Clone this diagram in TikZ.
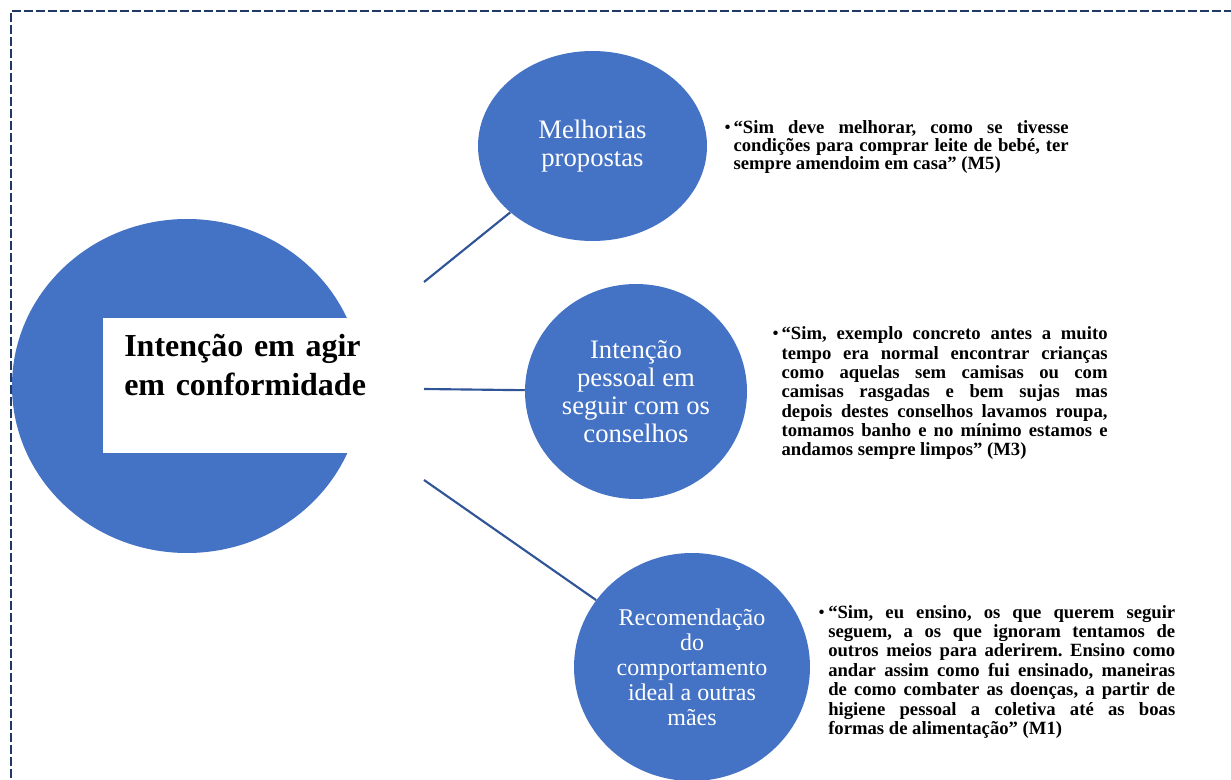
\documentclass[tikz,border=0pt]{standalone}
\usepackage{fontspec}
\setmainfont{Liberation Serif}
\usetikzlibrary{shapes.geometric, positioning}
\definecolor{bubbleblue}{HTML}{4472C4}
\definecolor{linkblue}{HTML}{2F5597}
\definecolor{framenavy}{HTML}{1F3864}
\newcommand{\qbullet}{\makebox[7pt][l]{\mdseries\textbullet}}
\frenchspacing

\begin{document}
\begin{tikzpicture}[x=0.75pt, y=-0.75pt,
        bubble/.style={ellipse, fill=bubbleblue, inner sep=0pt, text=white, align=center, font=\fontsize{20}{21}\selectfont},
        titlebox/.style={rectangle, fill=white, inner sep=0pt, minimum width=200pt, minimum height=101.25pt},
        titletext/.style={inner sep=0pt, anchor=base west, text width=195pt, align=left, font=\bfseries\fontsize{24}{28.5}\selectfont},
        quote/.style={inner sep=0pt, anchor=base west, font=\bfseries\fontsize{14}{14.5}\selectfont},
        link/.style={draw=linkblue, line width=1.6pt},
        frame/.style={draw=framenavy, line width=1pt, dash pattern=on 6.75pt off 2.25pt}
    ]
        \useasboundingbox (0,0) rectangle (1231,780);
        \clip (0,0) rectangle (1231,780);

        % Frame
        \draw [frame] (11,790) -- (11,11) -- (1240,11);

        % Nodes
        \node (main) [bubble, minimum width=262.5pt, minimum height=250.5pt] at (187,386) {};
        \node (title) [titlebox] at (236.5,385.5) {};
        \node (titletxt) [titletext] at (124,357) {Intenção em agir\\em conformidade};

        \node (melhorias) [bubble, minimum width=171.75pt, minimum height=142.5pt] at (592.5,146) {Melhorias\\propostas};
        \node (intencao) [bubble, minimum width=166.5pt, minimum height=161.25pt] at (636,391.5) {Intenção\\pessoal em\\seguir com os\\conselhos};
        \node (recomendacao) [bubble, minimum width=177pt, minimum height=171pt, font=\fontsize{18}{18.75}\selectfont] at (692,667) {Recomendação\\do\\comportamento\\ideal a outras\\mães};

        % Connectors
        \coordinate (s1) at (424,282);
        \coordinate (s2) at (424,389);
        \coordinate (s3) at (424,480);
        \draw [link] (s1) -- (melhorias);
        \draw [link] (s2) -- (intencao);
        \draw [link] (s3) -- (recomendacao);

        % Quotes
        \node (m5) [quote, font=\bfseries\fontsize{14}{13.2}\selectfont] at (724,134) {\qbullet\parbox[t]{251.25pt}{“Sim deve melhorar, como se tivesse\linebreak condições para comprar leite de bebé, ter\linebreak sempre amendoim em casa” (M5)}};
        \node (m3) [quote] at (772,340) {\qbullet\parbox[t]{244.5pt}{“Sim, exemplo concreto antes a muito\linebreak tempo era normal encontrar crianças\linebreak como aquelas sem camisas ou com\linebreak camisas rasgadas e bem sujas mas\linebreak depois destes conselhos lavamos roupa,\linebreak tomamos banho e no mínimo estamos e\linebreak andamos sempre limpos” (M3)}};
        \node (m1) [quote, font=\bfseries\fontsize{14}{14.6}\selectfont] at (818,618) {\makebox[7.5pt][l]{\mdseries\textbullet}\parbox[t]{260.25pt}{“Sim, eu ensino, os que querem seguir\linebreak seguem, a os que ignoram tentamos de\linebreak outros meios para aderirem. Ensino como\linebreak andar assim como fui ensinado, maneiras\linebreak de como combater as doenças, a partir de\linebreak higiene pessoal a coletiva até as boas\linebreak formas de alimentação” (M1)}};

    \end{tikzpicture}
\end{document}
